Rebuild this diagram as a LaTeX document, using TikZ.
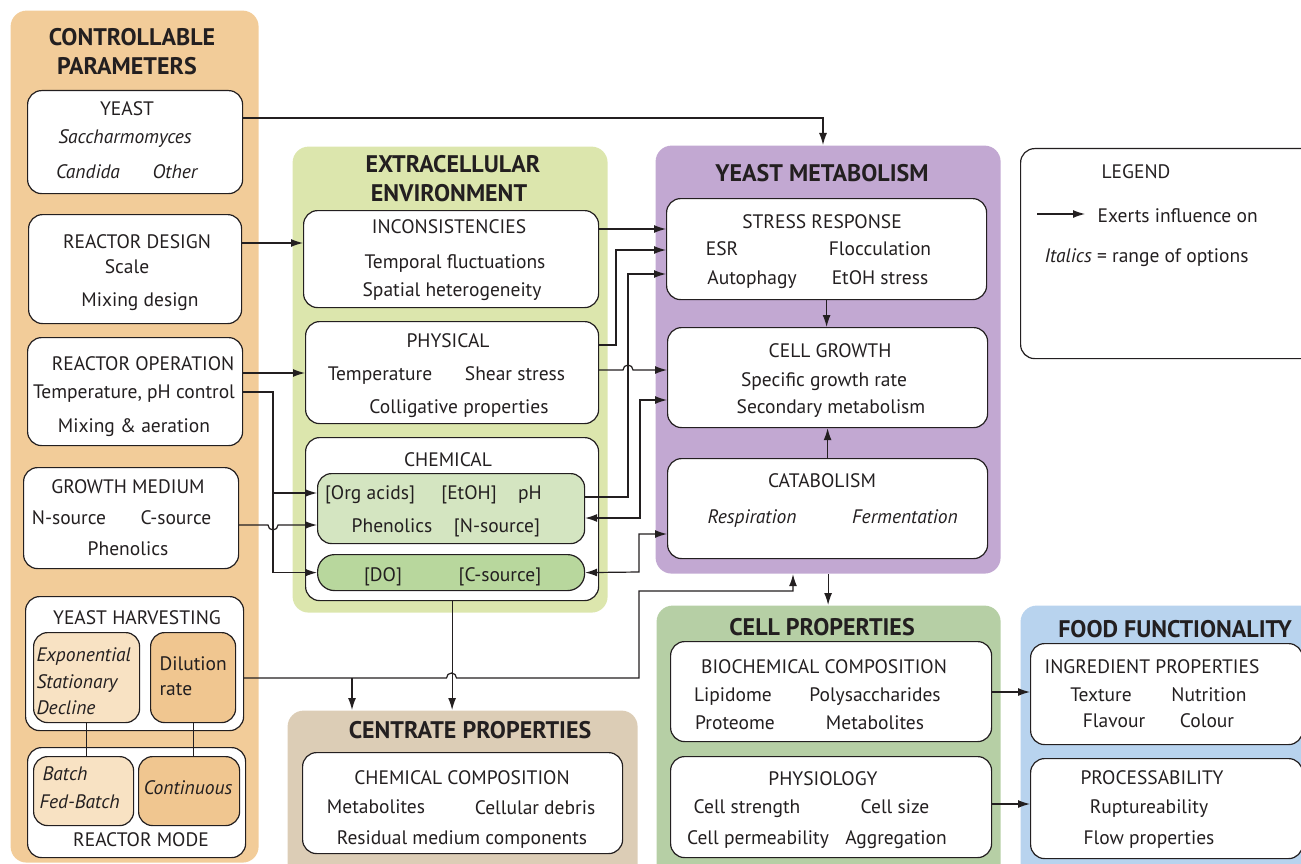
\documentclass[tikz,border=0pt]{standalone}
\usepackage{fontspec}
\setmainfont{PT Sans}
\usetikzlibrary{arrows.meta}
\definecolor{ink}{HTML}{231F20}
\definecolor{ctrlfill}{HTML}{F2CC99}
\definecolor{ctrllight}{HTML}{F8E2C3}
\definecolor{ctrldark}{HTML}{F0C690}
\definecolor{envfill}{HTML}{DCE6AD}
\definecolor{chemlight}{HTML}{D4E5C1}
\definecolor{chemdark}{HTML}{B8D79D}
\definecolor{metabfill}{HTML}{C2A8D2}
\definecolor{cellfill}{HTML}{B6CFA5}
\definecolor{foodfill}{HTML}{B8D3EE}
\definecolor{centrfill}{HTML}{DCCDB6}
\begin{document}
\begin{tikzpicture}[x=1pt, y=-1pt, color=ink, line width=1.2pt,
    >={Latex[length=12pt,width=8pt]},
    every node/.style={inner sep=0pt, text=ink, font=\fontsize{19.5}{23}\selectfont, text height=17pt, text depth=0pt},
    panel/.style={rounded corners=16pt, anchor=north west},
    wbox/.style={draw=ink, fill=white, rounded corners=14pt, anchor=north west},
    head/.style={font=\fontsize{24}{28}\selectfont\bfseries, text height=18pt},
    opt/.style={font=\fontsize{19.5}{23}\selectfont\itshape}]
    \useasboundingbox (0,0) rectangle (1301,864);
    \clip (0,0) rectangle (1301,864);

    % coloured panels
    \node[panel, fill=ctrlfill, minimum width=248, minimum height=852] (ctrl) at (10,10) {};
    \node[panel, fill=envfill, minimum width=315, minimum height=466] (env) at (292,146) {};
    \node[panel, fill=metabfill, minimum width=345, minimum height=428] (metab) at (655,145) {};
    \node[panel, fill=cellfill, minimum width=344, minimum height=275] (cellp) at (656,605) {};
    \node[panel, fill=foodfill, minimum width=300, minimum height=275] (food) at (1020,605) {};
    \node[panel, fill=centrfill, minimum width=350, minimum height=170] (centr) at (287,710) {};

    \node[head] (ctrl-t1) at (132,37) {CONTROLLABLE};
    \node[head] (ctrl-t2) at (127,66) {PARAMETERS};
    \node[head] (env-t1) at (453,163) {EXTRACELLULAR};
    \node[head] (env-t2) at (449,192) {ENVIRONMENT};
    \node[head] (metab-t) at (822,173) {YEAST METABOLISM};
    \node[head] (cellp-t) at (822,626) {CELL PROPERTIES};
    \node[head] (food-t) at (1175,628) {FOOD FUNCTIONALITY};
    \node[head] (centr-t) at (470,729) {CENTRATE PROPERTIES};

    % controllable parameters
    \node[wbox, minimum width=215, minimum height=103] (yeast) at (27,90) {};
    \node (yeast-t) at (127,107) {YEAST};
    \node[opt] (yeast-a) at (125,135) {Saccharmomyces};
    \node[opt] (yeast-b) at (88,170) {Candida};
    \node[opt] (yeast-c) at (175,170) {Other};

    \node[wbox, minimum width=213, minimum height=109] (rdesign) at (28,214) {};
    \node (rdesign-t) at (137,240) {REACTOR DESIGN};
    \node (rdesign-a) at (127,265) {Scale};
    \node (rdesign-b) at (140,298) {Mixing design};

    \node[wbox, minimum width=215, minimum height=108] (roper) at (27,337) {};
    \node (roper-t) at (143,362) {REACTOR OPERATION};
    \node (roper-a) at (134,390) {Temperature, pH control};
    \node (roper-b) at (134,424) {Mixing \& aeration};

    \node[wbox, minimum width=215, minimum height=101] (gmed) at (23,467) {};
    \node (gmed-t) at (128,485) {GROWTH MEDIUM};
    \node (gmed-a) at (69,516) {N-source};
    \node (gmed-b) at (176,516) {C-source};
    \node (gmed-c) at (128,547) {Phenolics};

    \node[wbox, minimum width=218, minimum height=134] (harv) at (25,596) {};
    \node (harv-t) at (137,616) {YEAST HARVESTING};
    \node[wbox, fill=ctrllight, minimum width=106, minimum height=90] (expo) at (33,632) {};
    \node[opt, anchor=west] (expo-a) at (36,653) {Exponential};
    \node[opt, anchor=west] (expo-b) at (36,680) {Stationary};
    \node[opt, anchor=west] (expo-c) at (36,706) {Decline};
    \node[wbox, fill=ctrldark, minimum width=85, minimum height=90] (dilut) at (150,632) {};
    \node[anchor=west] (dilut-a) at (159,662) {Dilution};
    \node[anchor=west] (dilut-b) at (159,687) {rate};

    \node[wbox, minimum width=218, minimum height=110] (rmode) at (27,747) {};
    \node[wbox, fill=ctrllight, minimum width=100, minimum height=69] (batch) at (33,756) {};
    \node[opt, anchor=west] (batch-a) at (42,772) {Batch};
    \node[opt, anchor=west] (batch-b) at (39,800) {Fed-Batch};
    \node[wbox, fill=ctrldark, minimum width=101, minimum height=69] (contin) at (138,756) {};
    \node[opt] (contin-a) at (188,786) {Continuous};
    \node (rmode-t) at (141,838) {REACTOR MODE};

    % extracellular environment
    \node[wbox, minimum width=295, minimum height=97] (incons) at (303,210) {};
    \node (incons-t) at (449,225) {INCONSISTENCIES};
    \node (incons-a) at (455,260) {Temporal fluctuations};
    \node (incons-b) at (452,288) {Spatial heterogeneity};

    \node[wbox, minimum width=293, minimum height=102] (phys) at (305,321) {};
    \node (phys-t) at (448,339) {PHYSICAL};
    \node (phys-a) at (380,372) {Temperature};
    \node (phys-b) at (515,372) {Shear stress};
    \node (phys-c) at (459,405) {Colligative properties};

    \node[wbox, minimum width=293, minimum height=163] (chem) at (305,437) {};
    \node (chem-t) at (448,458) {CHEMICAL};
    \node[wbox, fill=chemlight, minimum width=267, minimum height=70] (orgb) at (317,473) {};
    \node (orgb-a) at (370,491) {[Org acids]};
    \node (orgb-b) at (469,491) {[EtOH]};
    \node (orgb-c) at (530,491) {pH};
    \node (orgb-d) at (392,524) {Phenolics};
    \node (orgb-e) at (497,524) {[N-source]};
    \node[wbox, fill=chemdark, rounded corners=17pt, minimum width=267, minimum height=36] (dob) at (317,554) {};
    \node (dob-a) at (383,573) {[DO]};
    \node (dob-b) at (500,573) {[C-source]};

    % yeast metabolism
    \node[wbox, minimum width=320, minimum height=101] (stress) at (666,198) {};
    \node (stress-t) at (822,220) {STRESS RESPONSE};
    \node (stress-a) at (722,247) {ESR};
    \node (stress-b) at (880,247) {Flocculation};
    \node (stress-c) at (752,276) {Autophagy};
    \node (stress-d) at (880,276) {EtOH stress};

    \node[wbox, minimum width=320, minimum height=100] (growth) at (667,327) {};
    \node (growth-t) at (830,349) {CELL GROWTH};
    \node (growth-a) at (824,378) {Specific growth rate};
    \node (growth-b) at (831,405) {Secondary metabolism};

    \node[wbox, minimum width=320, minimum height=100] (catab) at (667,458) {};
    \node (catab-t) at (822,479) {CATABOLISM};
    \node[opt] (catab-a) at (752,515) {Respiration};
    \node[opt] (catab-b) at (905,515) {Fermentation};

    % legend
    \node[wbox, minimum width=300, minimum height=210] (legend) at (1020,148) {};
    \node (legend-t) at (1136,170) {LEGEND};
    \coordinate (legend-a) at (1037,214);
    \node[anchor=west] (legend-b) at (1097,214) {Exerts influence on};
    \node[anchor=west] (legend-c) at (1044,254) {\textit{Italics} = range of options};

    % cell properties
    \node[wbox, minimum width=321, minimum height=100] (biochem) at (670,641) {};
    \node (biochem-t) at (824,665) {BIOCHEMICAL COMPOSITION};
    \node (biochem-a) at (733,693) {Lipidome};
    \node (biochem-b) at (875,693) {Polysaccharides};
    \node (biochem-c) at (735,721) {Proteome};
    \node (biochem-d) at (875,721) {Metabolites};

    \node[wbox, minimum width=321, minimum height=101] (physio) at (670,756) {};
    \node (physio-t) at (823,777) {PHYSIOLOGY};
    \node (physio-a) at (747,805) {Cell strength};
    \node (physio-b) at (895,805) {Cell size};
    \node (physio-c) at (758,836) {Cell permeability};
    \node (physio-d) at (896,836) {Aggregation};

    % food functionality
    \node[wbox, minimum width=272, minimum height=101] (ingred) at (1030,643) {};
    \node (ingred-t) at (1152,665) {INGREDIENT PROPERTIES};
    \node (ingred-a) at (1101,693) {Texture};
    \node (ingred-b) at (1209,693) {Nutrition};
    \node (ingred-c) at (1114,719) {Flavour};
    \node (ingred-d) at (1207,719) {Colour};

    \node[wbox, minimum width=272, minimum height=100] (proc) at (1030,758) {};
    \node (proc-t) at (1152,776) {PROCESSABILITY};
    \node (proc-a) at (1149,805) {Ruptureability};
    \node (proc-b) at (1149,836) {Flow properties};

    % centrate properties
    \node[wbox, minimum width=320, minimum height=101] (chemcomp) at (302,752) {};
    \node (chemcomp-t) at (462,776) {CHEMICAL COMPOSITION};
    \node (chemcomp-a) at (376,805) {Metabolites};
    \node (chemcomp-b) at (535,806) {Cellular debris};
    \node (chemcomp-c) at (462,836) {Residual medium components};

    % connectors
    \coordinate (tjoin) at (273,493);
    \coordinate (hsplit) at (352,678);
    \draw (expo.south) -- (batch.north -| expo.south);
    \draw (dilut.south) -- (contin.north -| dilut.south);
    \draw[->] (yeast.east |- 0,118) -| (metab.north -| 823,0);
    \draw[->] (rdesign.east |- 0,243) -- (incons.west |- 0,243);
    \draw[->] (roper.east |- 0,373) -- (phys.west |- 0,373);
    \draw[->] (roper.east |- 0,392) -- (273,392) |- (dob.west);
    \draw[->] (tjoin) -- (orgb.west |- tjoin);
    \draw[->] (gmed.east |- 0,525) -- (268,525) arc[start angle=180, end angle=360, radius=5pt] -- (orgb.west |- 0,525);
    \draw[->] (incons.east |- 0,229) -- (stress.west |- 0,229);
    \draw[->] (phys.east |- 0,345) -- (616,345) |- (stress.west |- 0,250);
    \draw[->] (phys.east |- 0,370) -- (623,370) arc[start angle=180, end angle=0, radius=5pt] -- (growth.west |- 0,370);
    \draw[->] (orgb.east |- 0,497) -- (628,497) |- (stress.west |- 0,274);
    \draw[<->] (orgb.east |- 0,518) -- (640,518) |- (growth.west |- 0,400);
    \draw[<->] (dob.east) -- (639,572) |- (catab.west |- 0,534);
    \draw[->] (stress.south) -- (growth.north -| stress.south);
    \draw[->] (catab.north) -- (growth.south -| catab.north);
    \draw[->] (chem.south) -- (centr.north -| chem.south);
    \draw[->] (harv.east |- hsplit) -- (446.5,678) arc[start angle=180, end angle=0, radius=5pt] -- (639,678) -- (639,591) -- (793,591) -- (metab.south -| 793,0);
    \draw[->] (hsplit) -- (centr.north -| hsplit);
    \draw[->] (metab.south) -- (cellp.north -| metab.south);
    \draw[->] (biochem.east |- 0,692) -- (ingred.west |- 0,692);
    \draw[->] (physio.east |- 0,804) -- (proc.west |- 0,804);
    \draw[->] (legend-a) -- ([xshift=-12pt]legend-b.west);
\end{tikzpicture}
\end{document}
